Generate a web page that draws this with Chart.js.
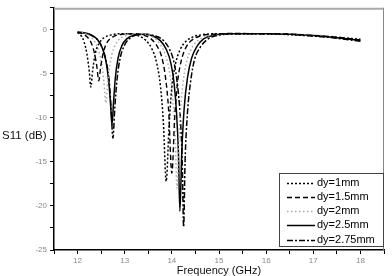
<!DOCTYPE html>
<html><head><meta charset="utf-8">
<script src="https://cdn.jsdelivr.net/npm/chart.js@4"></script>
<style>html,body{margin:0;padding:0;background:#fff}#wrap{width:392px;height:276px;position:relative}</style>
</head><body><div id="wrap"><canvas id="c"></canvas></div>
<script>
const seriesLabels = ["dy=1mm", "dy=1.5mm", "dy=2mm", "dy=2.5mm", "dy=2.75mm"];
const xTitle = "Frequency (GHz)";
const yTitle = "S11 (dB)";

const freq_1 = [12.0,12.08,12.14,12.2,12.25,12.28,12.32,12.38,12.46,12.56,12.7,12.9,13.1,13.3,13.45,13.58,13.68,13.76,13.82,13.88,13.94,14.0,14.08,14.18,14.3,14.45,14.65,15.0,15.5,16.0,16.5,17.0,17.5,18.0];
const s11_1  = [-0.3,-0.7,-1.4,-2.8,-4.8,-6.5,-4.6,-2.6,-1.5,-0.9,-0.6,-0.45,-0.45,-0.7,-1.2,-2.2,-3.8,-6.5,-10.5,-17.2,-11,-6.5,-3.8,-2.2,-1.3,-0.8,-0.55,-0.45,-0.45,-0.45,-0.55,-0.7,-0.85,-1.1];

const freq_15 = [12.0,12.12,12.22,12.3,12.36,12.41,12.45,12.49,12.55,12.63,12.75,12.95,13.2,13.4,13.55,13.68,13.78,13.86,13.93,14.0,14.06,14.12,14.2,14.3,14.42,14.6,14.85,15.3,16.0,16.5,17.0,17.5,18.0];
const s11_15  = [-0.25,-0.5,-0.9,-1.6,-2.7,-4.2,-5.8,-4.2,-2.5,-1.4,-0.8,-0.5,-0.45,-0.6,-1.0,-1.8,-3.0,-5.2,-9,-16.3,-10,-6,-3.5,-2.0,-1.2,-0.7,-0.5,-0.42,-0.45,-0.5,-0.65,-0.85,-1.15];

const freq_2 = [12.0,12.15,12.28,12.38,12.46,12.52,12.56,12.6,12.64,12.69,12.76,12.86,13.0,13.2,13.45,13.62,13.75,13.86,13.95,14.02,14.07,14.11,14.15,14.2,14.27,14.36,14.48,14.65,14.9,15.4,16.0,16.5,17.0,17.5,18.0];
const s11_2  = [-0.2,-0.4,-0.8,-1.5,-2.6,-4.2,-6,-8.3,-6,-3.8,-2.2,-1.2,-0.7,-0.45,-0.5,-0.9,-1.6,-2.8,-4.8,-8,-12,-18,-12.5,-8,-4.8,-2.8,-1.6,-0.9,-0.55,-0.42,-0.45,-0.5,-0.6,-0.8,-1.05];

const freq_25 = [12.0,12.15,12.3,12.42,12.52,12.6,12.66,12.7,12.73,12.76,12.8,12.86,12.94,13.05,13.2,13.4,13.6,13.75,13.88,13.98,14.05,14.1,14.14,14.17,14.21,14.26,14.33,14.42,14.53,14.68,14.9,15.3,16.0,16.5,17.0,17.5,18.0];
const s11_25  = [-0.25,-0.35,-0.6,-1.1,-2.0,-3.5,-5.8,-8.5,-10.8,-8.5,-5.5,-3.2,-1.8,-1.0,-0.6,-0.5,-0.7,-1.2,-2.2,-3.8,-6.2,-9.5,-14,-20.6,-14,-9,-5.5,-3.2,-1.9,-1.0,-0.6,-0.45,-0.45,-0.5,-0.65,-0.9,-1.2];

const freq_275 = [12.0,12.15,12.3,12.42,12.52,12.6,12.67,12.71,12.75,12.79,12.84,12.9,12.98,13.1,13.25,13.45,13.65,13.82,13.95,14.05,14.12,14.18,14.22,14.25,14.28,14.33,14.4,14.48,14.6,14.75,15.0,15.4,16.0,16.5,17.0,17.5,18.0];
const s11_275  = [-0.3,-0.4,-0.65,-1.1,-2.0,-3.4,-5.8,-8.8,-12.3,-8.8,-5.5,-3.3,-1.9,-1.0,-0.6,-0.5,-0.7,-1.2,-2.2,-3.8,-6.3,-10,-15,-22.4,-15,-9.5,-5.8,-3.4,-2.0,-1.1,-0.6,-0.45,-0.45,-0.5,-0.7,-0.95,-1.3];

const xMin = 11.5, xMax = 18.5, yMin = -25, yMax = 2.5;

const freqs = [freq_1, freq_15, freq_2, freq_25, freq_275];
const vals = [s11_1, s11_15, s11_2, s11_25, s11_275];
const styles = [
  {color:'#000', dash:[2,2], width:1.5},
  {color:'#000', dash:[5,3], width:1.4},
  {color:'#aaa', dash:[1.5,2.5], width:1.5},
  {color:'#000', dash:[], width:1.5},
  {color:'#000', dash:[6,2,2,2], width:1.5}
];

const datasets = seriesLabels.map((lab, i) => ({
  label: lab,
  data: freqs[i].map((f, k) => ({x: f, y: vals[i][k]})),
  borderColor: styles[i].color,
  borderDash: styles[i].dash,
  borderWidth: styles[i].width,
  pointRadius: 0,
  fill: false,
  cubicInterpolationMode: 'monotone'
}));

const FONT = "'Liberation Sans', Arial, sans-serif";

const decor = {
  id: 'decor',
  afterDraw(chart) {
    const ctx = chart.ctx, a = chart.chartArea;
    ctx.save();
    ctx.strokeStyle = '#aaa'; ctx.lineWidth = 2;
    ctx.beginPath(); ctx.moveTo(a.left, a.top + 1); ctx.lineTo(a.right, a.top + 1); ctx.stroke();
    ctx.strokeStyle = '#888'; ctx.lineWidth = 1;
    ctx.beginPath(); ctx.moveTo(a.right - 0.5, a.top); ctx.lineTo(a.right - 0.5, a.bottom); ctx.stroke();
    ctx.fillStyle = '#111';
    ctx.font = "11.5px " + FONT;
    ctx.textAlign = 'left'; ctx.textBaseline = 'middle';
    ctx.fillText(yTitle, 2, 136);
    ctx.font = "11px " + FONT;
    ctx.textAlign = 'center';
    ctx.fillText(xTitle, 219, 271);
    const lx = 279, ly = 173, lw = a.right - lx, lh = 74;
    ctx.fillStyle = '#fff';
    ctx.fillRect(lx, ly, lw, lh);
    ctx.strokeStyle = '#444'; ctx.lineWidth = 1;
    ctx.strokeRect(lx + 0.5, ly + 0.5, lw - 1, lh - 1);
    ctx.font = "11px " + FONT;
    ctx.textAlign = 'left'; ctx.textBaseline = 'middle';
    chart.data.datasets.forEach((ds, i) => {
      const yy = ly + 9.5 + i * 14.3;
      ctx.strokeStyle = ds.borderColor; ctx.lineWidth = ds.borderWidth;
      ctx.setLineDash(ds.borderDash);
      ctx.beginPath(); ctx.moveTo(287, Math.round(yy) + 0.5); ctx.lineTo(315, Math.round(yy) + 0.5); ctx.stroke();
      ctx.setLineDash([]);
      ctx.fillStyle = '#000';
      ctx.fillText(ds.label, 317, yy);
    });
    ctx.restore();
  }
};

new Chart(document.getElementById('c'), {
  type: 'line',
  data: { datasets },
  options: {
    responsive: true,
    maintainAspectRatio: false,
    animation: false,
    layout: { padding: { top: 3, right: 8, left: 0, bottom: 0 } },
    plugins: { legend: { display: false }, tooltip: { enabled: false } },
    scales: {
      x: {
        type: 'linear', min: xMin, max: xMax,
        afterFit: s => { s.height = 26; },
        ticks: {
          stepSize: 0.5, autoSkip: false, maxRotation: 0, padding: 2,
          color: '#888', font: { size: 8, family: FONT },
          callback: v => Number.isInteger(v) ? String(v) : ''
        },
        grid: { display: true, drawOnChartArea: false, drawTicks: true, tickLength: 4, color: '#000' },
        border: { display: true, color: '#000', width: 1.5 }
      },
      y: {
        type: 'linear', min: yMin, max: yMax,
        afterFit: s => { s.width = 54; },
        ticks: {
          stepSize: 2.5, autoSkip: false, padding: 3,
          color: '#888', font: { size: 8, family: FONT },
          callback: v => (v % 5 === 0 && v <= 0) ? String(v) : ''
        },
        grid: { display: true, drawOnChartArea: false, drawTicks: true, tickLength: 4, color: '#000' },
        border: { display: true, color: '#000', width: 1.5 }
      }
    }
  },
  plugins: [decor]
});
</script>
</body></html>
